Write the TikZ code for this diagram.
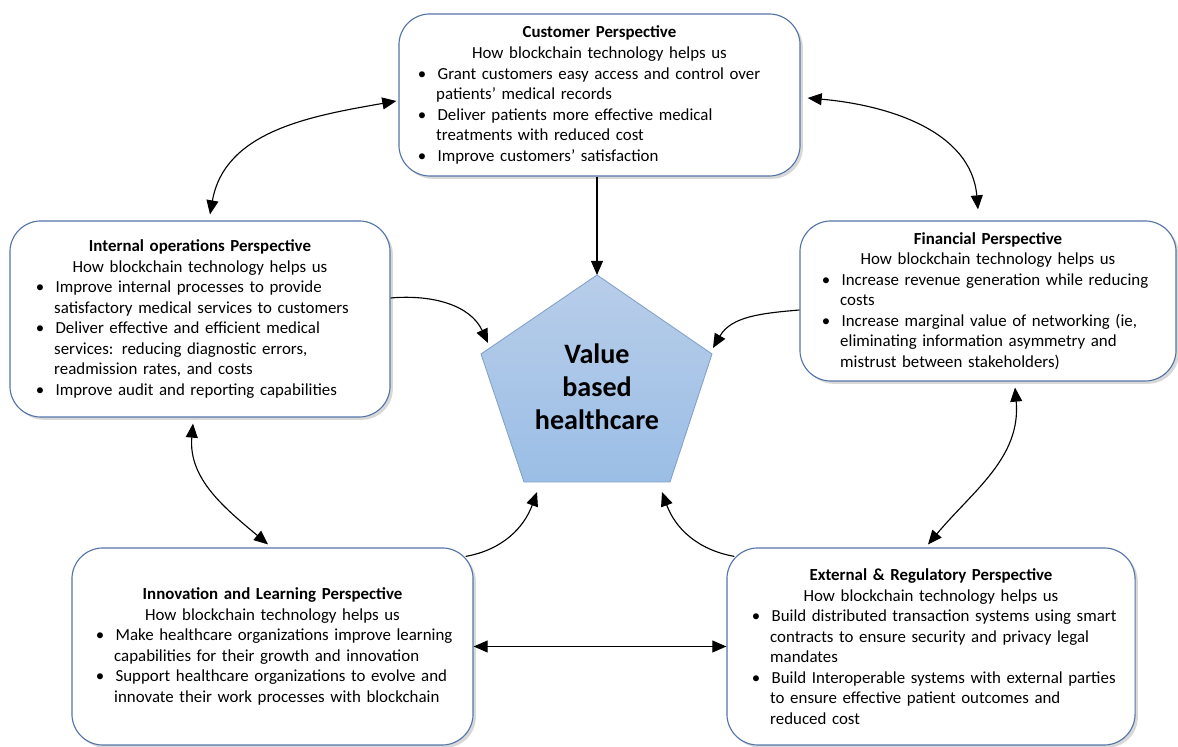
\documentclass[tikz,border=0pt]{standalone}
\usepackage{fontspec}
\setmainfont{Carlito}
\usepackage{enumitem}
\usetikzlibrary{arrows.meta,calc,shadows}

\definecolor{boxline}{RGB}{84,116,168}
\definecolor{penttop}{RGB}{184,205,233}
\definecolor{pentbot}{RGB}{155,190,230}
\definecolor{pentline}{RGB}{130,160,198}

\setlist[itemize]{label=\textbullet, leftmargin=13pt, labelwidth=5pt,
	labelsep=8pt, align=left, rightmargin=-30pt,
	itemsep=0pt, topsep=0pt, parsep=0pt, partopsep=0pt}
\hfuzz=40pt

\newcommand{\boxhead}[1]{{\centering\textbf{#1}\\How blockchain technology helps us\par}}

\begin{document}
\begin{tikzpicture}[x=0.025cm, y=0.025cm,
	>={Triangle[length=10pt,width=8.5pt]},
	perspective/.style = { rectangle, rounded corners=22pt, draw=boxline,
	line width=0.8pt, fill=white, align=left, inner ysep=2pt,
	font=\fontsize{12}{14.6}\selectfont,
	drop shadow={shadow xshift=2pt, shadow yshift=-2pt, fill=black!30, opacity=0.5} },
	link/.style = { draw, line width=0.8pt } ]

  \useasboundingbox (0,0) rectangle (1178,747);

  % perspectives
  \node [name=customer, perspective, inner xsep=0.475cm, text width=9.075cm,
	minimum width=10.025cm, minimum height=4.05cm] at (599.5,652) {
	\boxhead{Customer Perspective}
	\begin{itemize}
	\item Grant customers easy access and control over\\ patients' medical records
	\item Deliver patients more effective medical\\ treatments with reduced cost
	\item Improve customers' satisfaction
	\end{itemize}};
  \node [name=internal, perspective, inner xsep=0.65cm, text width=8.2cm,
	minimum width=9.5cm, minimum height=4.9cm] at (200,428) {
	\boxhead{Internal operations Perspective}
	\begin{itemize}
	\item Improve internal processes to provide\\ satisfactory medical services to customers
	\item Deliver effective and efficient medical\\ services: reducing diagnostic errors,\\ readmission rates, and costs
	\item Improve audit and reporting capabilities
	\end{itemize}};
  \node [name=financial, perspective, inner xsep=0.55cm, text width=8.3cm,
	minimum width=9.4cm, minimum height=4.0cm] at (988,446) {
	\boxhead{Financial Perspective}
	\begin{itemize}
	\item Increase revenue generation while reducing\\ costs
	\item Increase marginal value of networking (ie,\\ eliminating information asymmetry and\\ mistrust between stakeholders)
	\end{itemize}};
  \node [name=innovation, perspective, inner xsep=0.6cm, text width=8.825cm,
	minimum width=10.025cm, minimum height=4.925cm] at (272.5,100.5) {
	\boxhead{Innovation and Learning Perspective}
	\begin{itemize}
	\item Make healthcare organizations improve learning\\ capabilities for their growth and innovation
	\item Support healthcare organizations to evolve and\\ innovate their work processes with blockchain
	\end{itemize}};
  \node [name=external, perspective, inner xsep=0.625cm, text width=8.95cm,
	minimum width=10.2cm, minimum height=4.925cm] at (931,100.5) {
	\boxhead{External \& Regulatory Perspective}
	\begin{itemize}
	\item Build distributed transaction systems using smart\\ contracts to ensure security and privacy legal\\ mandates
	\item Build Interoperable systems with external parties\\ to ensure effective patient outcomes and\\ reduced cost
	\end{itemize}};

  % value based healthcare pentagon
  \coordinate (ptop) at (597,472);
  \coordinate (pleft) at (481,393);
  \coordinate (pright) at (712,393);
  \coordinate (pbl) at (524,265);
  \coordinate (pbr) at (670,265);
  \path [top color=penttop, bottom color=pentbot, draw=pentline, line width=0.6pt]
	(ptop) -- (pright) -- (pbr) -- (pbl) -- (pleft) -- cycle;
  \node [name=value, align=center, font=\fontsize{20}{23.5}\selectfont\bfseries]
	at (597,360) {Value\\based\\healthcare};

  % arrow ends on the pentagon
  \coordinate (inleft) at (488,404);
  \coordinate (inright) at (713,399);
  \coordinate (inbl) at (537,255);
  \coordinate (inbr) at (662,255);

  % connectors
  \draw [link, ->] (customer.south -| ptop) -- (ptop);
  \draw [link, <->] ($(internal.north)+(10,6)$) to[out=80, in=190]
	($(customer.west)+(-2,-6)$);
  \draw [link, <->] ($(customer.east)+(7,-3)$) to[out=-5, in=95]
	($(financial.north)+(-10,11)$);
  \draw [link, <->] ($(internal.south)+(-7,-6)$) to[out=265, in=140]
	($(innovation.north)+(-4.5,3)$);
  \draw [link, <->] ($(financial.south)+(27,-6)$) to[out=275, in=50]
	($(external.north)+(-3,3)$);
  \draw [link, ->] ($(internal.east)+(0,21)$) to[out=5, in=115] (inleft);
  \draw [link, ->] ($(financial.west)+(0,-9)$) to[out=185, in=60] (inright);
  \draw [link, ->] ($(innovation.north east)+(-8,-9)$) to[out=10, in=250] (inbl);
  \draw [link, ->] ($(external.north west)+(8,-9)$) to[out=170, in=290] (inbr);
  \draw [link, <->] (innovation.east) -- (external.west);
\end{tikzpicture}
\end{document}
